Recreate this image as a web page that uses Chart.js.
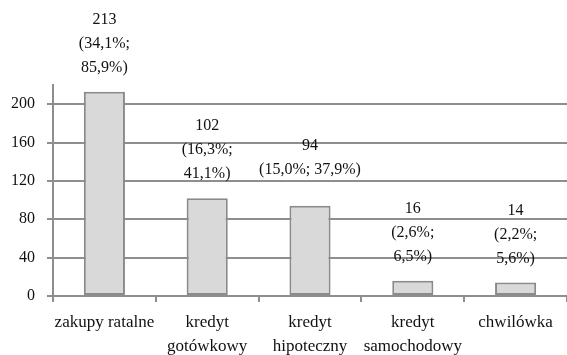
<!DOCTYPE html>
<html>
<head>
<meta charset="utf-8">
<script src="https://cdn.jsdelivr.net/npm/chart.js@4/dist/chart.umd.min.js"></script>
<style>
  html, body { margin: 0; padding: 0; background: #fff; }
  #wrap { width: 567px; height: 355px; }
</style>
</head>
<body>
<div id="wrap"><canvas id="c" width="567" height="355"></canvas></div>
<script>
// Kategorie kredytów i liczba wskazań
const categories = [
  ['zakupy ratalne'],
  ['kredyt', 'gotówkowy'],
  ['kredyt', 'hipoteczny'],
  ['kredyt', 'samochodowy'],
  ['chwilówka']
];
const counts = [213, 102, 94, 16, 14];
// udziały procentowe podawane w nawiasach
const shareLines = [
  ['(34,1%;', '85,9%)'],
  ['(16,3%;', '41,1%)'],
  ['(15,0%; 37,9%)'],
  ['(2,6%;', '6,5%)'],
  ['(2,2%;', '5,6%)']
];
const yTicks = [0, 40, 80, 120, 160, 200];

const FONT = '"Liberation Serif", "Times New Roman", serif';
const GRID = '#8e8e8e';
const TEXT = '#111111';

// etykiety nad słupkami: blok o stałej wysokości, tekst wyśrodkowany w pionie
const barLabels = {
  id: 'barLabels',
  afterDatasetsDraw(chart) {
    const ctx = chart.ctx;
    const meta = chart.getDatasetMeta(0);
    const lineH = 24;
    const boxLines = 3;
    ctx.save();
    ctx.font = '16px ' + FONT;
    ctx.fillStyle = TEXT;
    ctx.textAlign = 'center';
    ctx.textBaseline = 'middle';
    meta.data.forEach((bar, i) => {
      const lines = [String(counts[i])].concat(shareLines[i]);
      const boxBottom = bar.y - 12;
      const center = boxBottom - (boxLines * lineH) / 2;
      const first = center - ((lines.length - 1) * lineH) / 2;
      lines.forEach((t, k) => ctx.fillText(t, bar.x, first + k * lineH));
    });
    ctx.restore();
  }
};

new Chart(document.getElementById('c'), {
  type: 'bar',
  data: {
    labels: categories,
    datasets: [{
      data: counts,
      backgroundColor: '#d9d9d9',
      borderColor: '#8a8a8a',
      borderWidth: 2,
      borderSkipped: false,
      barPercentage: 0.4,
      categoryPercentage: 1
    }]
  },
  options: {
    responsive: false,
    animation: false,
    layout: { padding: { top: 85, right: 0, left: 0, bottom: 0 } },
    plugins: {
      legend: { display: false },
      tooltip: { enabled: false }
    },
    scales: {
      x: {
        offset: true,
        grid: {
          offset: true,
          drawOnChartArea: false,
          drawTicks: true,
          tickLength: 6,
          color: GRID,
          lineWidth: 2
        },
        border: { display: false },
        ticks: {
          color: TEXT,
          padding: 9,
          maxRotation: 0,
          autoSkip: false,
          font: { family: FONT, size: 17, lineHeight: 1.38 }
        },
        afterFit(scale) { scale.height = 59; }
      },
      y: {
        min: 0,
        max: 220,
        afterBuildTicks(scale) {
          scale.ticks = yTicks.map(v => ({ value: v }));
        },
        grid: {
          color: GRID,
          lineWidth: 2,
          tickLength: 6,
          drawTicks: true
        },
        border: { display: true, color: GRID, width: 2 },
        ticks: {
          color: TEXT,
          padding: 12,
          font: { family: FONT, size: 16 }
        },
        afterFit(scale) { scale.width = 53; }
      }
    }
  },
  plugins: [barLabels]
});
</script>
</body>
</html>
